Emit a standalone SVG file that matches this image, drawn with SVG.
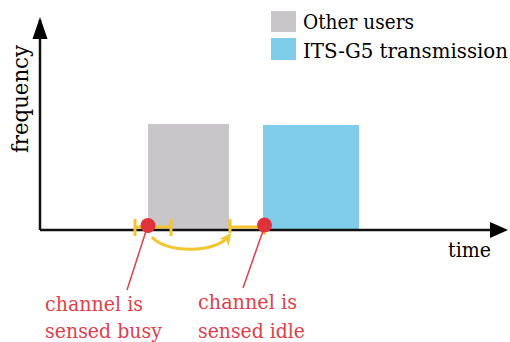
<svg xmlns="http://www.w3.org/2000/svg" width="510" height="342" viewBox="0 0 510 342">
<style>
.t{font-family:'DejaVu Serif',serif;font-size:19.5px}
.lbl{fill:#000}
.red{fill:#E0404A}
.axis{stroke:#111;stroke-width:2.5;fill:none}
.yel{stroke:#F2C531;stroke-width:3;fill:none}
.rl{stroke:#E0404A;stroke-width:1.5}
</style>
<defs>
<marker id="yh" viewBox="0 0 10 10" refX="7" refY="5" markerWidth="12" markerHeight="12" markerUnits="userSpaceOnUse" orient="auto">
<path d="M0,0 L10,5 L0,10 L3,5 Z" fill="#F2C531"/>
</marker>
</defs>
<g id="legend">
<rect x="271" y="11" width="25" height="21" fill="#C8C6C9"/>
<text class="t lbl" x="303" y="29" textLength="111" lengthAdjust="spacingAndGlyphs">Other users</text>
<rect x="271" y="38" width="25" height="22" fill="#80CDEA"/>
<text class="t lbl" x="303" y="58" textLength="205" lengthAdjust="spacingAndGlyphs">ITS-G5 transmission</text>
</g>
<g id="other-users"><rect x="148" y="124" width="81" height="106" fill="#C8C6C9"/></g>
<g id="its-g5"><rect x="263" y="125" width="96" height="105" fill="#80CDEA"/></g>
<g id="connectors">
<path class="axis" d="M40,230 L40,20"/>
<path d="M40,17 L32.5,39 L47.5,39 Z" fill="#000"/>
<path class="axis" d="M40,230 L490,230"/>
<path d="M508,230 L490,222 L490,238 Z" fill="#000"/>
<path class="yel" d="M135,227 L171,227 M135,219 L135,236 M171,219 L171,236"/>
<path class="yel" d="M230,227 L263,227 M230,219 L230,233 M264,227 L264,235"/>
<path d="M152,237 C165,253 215,254 229,236" stroke="#F2C531" stroke-width="3" fill="none" marker-end="url(#yh)"/>
<path class="rl" d="M147,228 L127,290"/>
<path class="rl" d="M264,228 L243,288"/>
</g>
<g id="busy"><circle cx="148" cy="225.5" r="7.5" fill="#E0323A"/>
<text class="t red" x="45" y="311" textLength="98" lengthAdjust="spacingAndGlyphs">channel is</text>
<text class="t red" x="45" y="338" textLength="117" lengthAdjust="spacingAndGlyphs">sensed busy</text></g>
<g id="idle"><circle cx="264.5" cy="225" r="7.5" fill="#E0323A"/>
<text class="t red" x="198" y="309" textLength="99" lengthAdjust="spacingAndGlyphs">channel is</text>
<text class="t red" x="198" y="338" textLength="107" lengthAdjust="spacingAndGlyphs">sensed idle</text></g>
<g id="labels">
<text class="t lbl" x="448" y="257" textLength="43" lengthAdjust="spacingAndGlyphs">time</text>
<text class="t lbl" transform="translate(28,153) rotate(-90)" style="font-size:22px" textLength="108" lengthAdjust="spacingAndGlyphs">frequency</text>
</g>
</svg>
